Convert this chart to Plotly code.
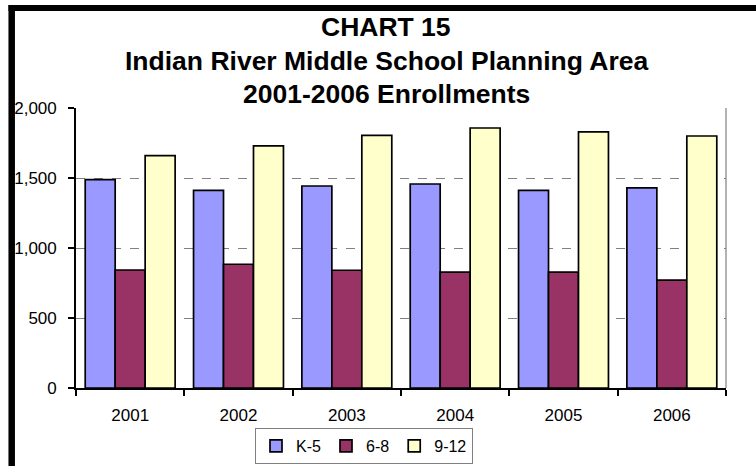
import plotly.graph_objects as go

years = ["2001", "2002", "2003", "2004", "2005", "2006"]
k5 = [1489, 1412, 1443, 1457, 1412, 1429]
g68 = [843, 884, 841, 827, 827, 771]
g912 = [1660, 1729, 1805, 1857, 1829, 1800]
title_lines = ["CHART 15", "Indian River Middle School Planning Area", "2001-2006 Enrollments"]

FONT = "Liberation Sans, Arial, sans-serif"
W, H = 756, 466
L, R, T, B = 76, 30, 108, 78
PW, PH = W - L - R, H - T - B


def px_x(px):
    return (px - L) / PW


def px_y(py):
    return 1 - (py - T) / PH


fig = go.Figure()
for name, vals, col in [("K-5", k5, "#9999FF"), ("6-8", g68, "#993366"), ("9-12", g912, "#FFFFCC")]:
    fig.add_trace(go.Bar(x=years, y=vals, name=name, marker=dict(color=col, line=dict(color="black", width=1.7))))

shapes = [
    dict(type="line", xref="paper", yref="paper", x0=1, x1=1, y0=0, y1=1, line=dict(color="#808080", width=1.2)),
    dict(type="line", xref="paper", yref="paper", x0=px_x(11.7), x1=px_x(11.7), y0=px_y(5), y1=px_y(480), line=dict(color="black", width=6.5)),
    dict(type="line", xref="paper", yref="paper", x0=px_x(8.5), x1=px_x(770), y0=px_y(8), y1=px_y(8), line=dict(color="black", width=6)),
]

annotations = []
for txt, cy in zip(title_lines, [27, 61, 94]):
    annotations.append(dict(text=txt, xref="paper", yref="paper", x=px_x(386), y=px_y(cy), xanchor="center", yanchor="middle", showarrow=False, font=dict(family=FONT, size=26.5, color="black", weight="bold")))

fig.update_layout(
    width=W, height=H,
    margin=dict(l=L, r=R, t=T, b=B, pad=0, autoexpand=False),
    paper_bgcolor="white", plot_bgcolor="white",
    barmode="group", bargap=0.17, bargroupgap=0,
    font=dict(family=FONT, size=17, color="black"),
    showlegend=True,
    legend=dict(orientation="h", x=px_x(255), y=px_y(428), xanchor="left", yanchor="top", bordercolor="#808080", borderwidth=1, bgcolor="white", font=dict(size=16, family=FONT), itemwidth=30, tracegroupgap=0),
    shapes=shapes,
    annotations=annotations,
)
fig.update_xaxes(type="category", showline=True, linecolor="black", linewidth=1.7, ticks="outside", tickson="boundaries", ticklen=6, tickcolor="black", tickwidth=1.7, showgrid=False, ticklabelstandoff=11, automargin=False)
fig.update_yaxes(range=[0, 2000], dtick=500, tickformat=",", showline=True, linecolor="black", linewidth=1.7, ticks="outside", ticklen=6, tickcolor="black", tickwidth=1.7, showgrid=True, gridcolor="#808080", gridwidth=1, griddash="dash", zeroline=False, ticklabelstandoff=8, automargin=False)

fig.write_html("out.html", config={"displayModeBar": False}, post_script="document.body.style.margin='0';document.body.style.overflow='hidden';")
